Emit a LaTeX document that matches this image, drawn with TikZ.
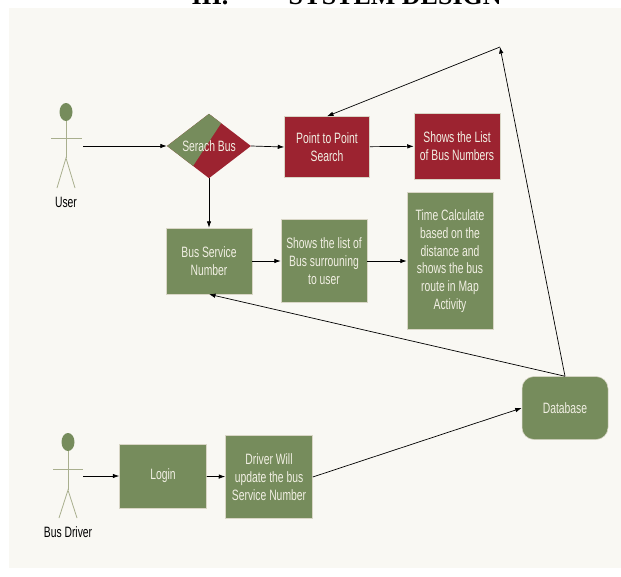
\documentclass[tikz,border=0pt]{standalone}
\usepackage{fontspec}
\setmainfont[FakeStretch=0.69]{Liberation Sans}
\newfontfamily\titlefont{Liberation Serif}
\usepackage{xcolor}
\usetikzlibrary{arrows.meta, positioning, shapes.geometric, calc}

\definecolor{busgreen}{HTML}{768C5C}
\definecolor{busred}{HTML}{9C2330}
\definecolor{panel}{HTML}{F9F8F3}
\definecolor{stickline}{HTML}{A9AF8E}
\definecolor{boxtext}{HTML}{F1EFE3}
\definecolor{boxedge}{HTML}{D9D6C6}

\begin{document}
\begin{tikzpicture}[
x=1pt, y=-1pt,
>={Latex[length=6.5pt,width=4.5pt]},
every node/.style={font=\fontsize{15}{17.7}\selectfont},
box/.style={rectangle, draw=boxedge, line width=0.5pt, text=boxtext, align=center, inner sep=0pt},
greenbox/.style={box, fill=busgreen},
redbox/.style={box, fill=busred},
stick/.style={draw=stickline, line width=0.8pt},
link/.style={->, line width=0.7pt},
]
\useasboundingbox (0,0) rectangle (621,576);
\fill[panel] (9,8) rectangle (621,568);

% heading
\node[anchor=base west, font=\titlefont\bfseries\fontsize{26}{30}\selectfont] (roman) at (188,4) {III.};
\node[anchor=base west, font=\titlefont\bfseries\fontsize{26}{30}\selectfont] (heading) at (285,4) {SYSTEM DESIGN};

% user
\node[ellipse, fill=busgreen, minimum width=13pt, minimum height=18pt, inner sep=0pt] (userhead) at (66,112) {};
\draw[stick] (userhead.south) -- (66,158) coordinate (userhip);
\draw[stick] (51,138) -- (82,138);
\draw[stick] (57,188) -- (userhip) -- (75,188);
\node[anchor=base] (user) at (66,207) {User};
\coordinate (userhand) at (83,146);

% bus driver
\node[ellipse, fill=busgreen, minimum width=13pt, minimum height=18pt, inner sep=0pt] (driverhead) at (68,442) {};
\draw[stick] (driverhead.south) -- (68,490) coordinate (driverhip);
\draw[stick] (53,469) -- (83,469);
\draw[stick] (59,518) -- (driverhip) -- (77,518);
\node[anchor=base] (driver) at (68,537) {Bus Driver};
\coordinate (driverhand) at (83,476);

% nodes
\node[diamond, fill=busred, minimum width=84pt, minimum height=62pt, inner sep=0pt, text=boxtext,
  path picture={\fill[busgreen] (path picture bounding box.north) -- (path picture bounding box.west)
    -- ($(path picture bounding box.west)!0.62!(path picture bounding box.south)$)
    -- ($(path picture bounding box.north)!0.29!(path picture bounding box.east)$) -- cycle;}]
  (search) at (209,146) {Serach Bus};
\node[redbox, minimum width=85pt, minimum height=61pt] (p2p) at (327,147) {Point to Point\\Search};
\node[redbox, minimum width=86pt, minimum height=66pt] (buslist) at (457,146) {Shows the List\\of Bus Numbers};
\node[greenbox, minimum width=86pt, minimum height=66pt] (service) at (209,261) {Bus Service\\Number};
\node[greenbox, minimum width=86pt, minimum height=83pt] (nearby) at (324,261) {Shows the list of\\Bus surrouning\\to user};
\node[greenbox, minimum width=86pt, minimum height=137pt] (timecalc) at (450,261) {Time Calculate\\based on the\\distance and\\shows the bus\\route in Map\\Activity};
\node[greenbox, rounded corners=12pt, minimum width=86pt, minimum height=63pt] (database) at (565,408) {Database};
\node[greenbox, minimum width=87pt, minimum height=64pt] (login) at (163,476) {Login};
\node[greenbox, minimum width=87pt, minimum height=83pt] (driverupd) at (269,477) {Driver Will\\update the bus\\Service Number};
\coordinate (apex) at (500,47);

% arrows
\draw[link] (userhand) -- (search.west);
\draw[link] (search.east) -- (p2p.west);
\draw[link] (p2p) -- (buslist);
\draw[link] (search.south) -- (service.north);
\draw[link] (service) -- (nearby);
\draw[link] (nearby) -- (timecalc);
\draw[link] (database.north) -- (apex);
\draw[link] (apex) -- (p2p.north);
\draw[link] (database.north) -- (service.south);
\draw[link] (driverhand) -- (login);
\draw[link] (login) -- (driverupd);
\draw[link] (driverupd.east) -- (database.west);
\end{tikzpicture}
\end{document}
